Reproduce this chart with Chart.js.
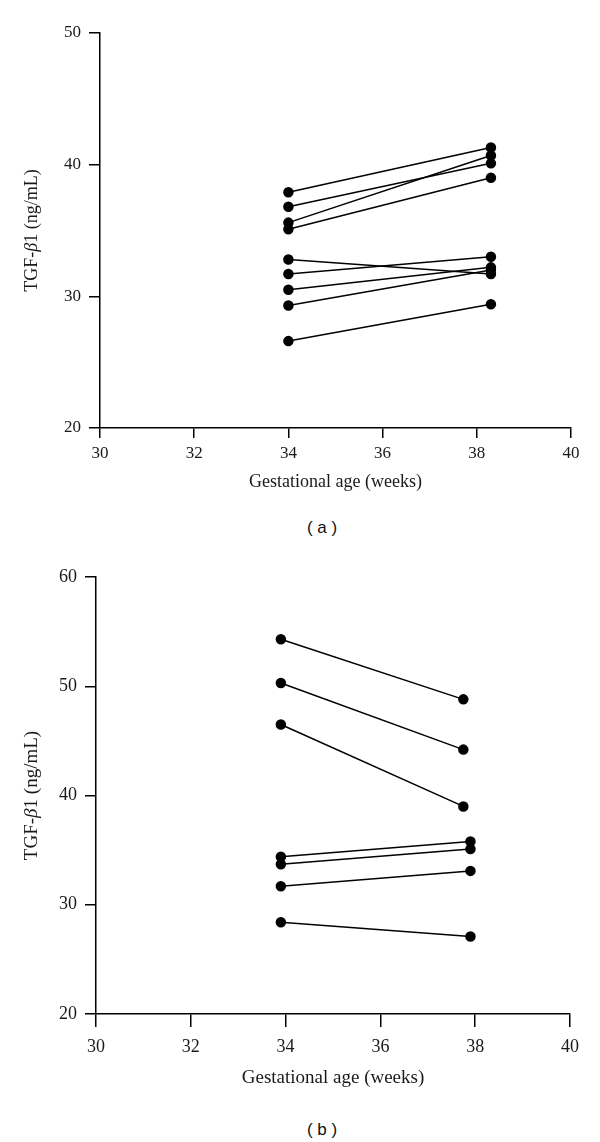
<!DOCTYPE html>
<html>
<head>
<meta charset="utf-8">
<script src="https://cdn.jsdelivr.net/npm/chart.js@4"></script>
<style>
  body { margin: 0; background: #fff; width: 600px; height: 1142px; position: relative; overflow: hidden; }
  canvas { position: absolute; left: 0; }
  .cap { position: absolute; left: 222px; width: 200px; text-align: center; font: 17px "Liberation Sans", Arial, sans-serif; color: #111; }
</style>
</head>
<body>
<canvas id="chartA" width="600" height="500" style="top:0"></canvas>
<div class="cap" style="top:518px">( a )</div>
<canvas id="chartB" width="600" height="560" style="top:540px"></canvas>
<div class="cap" style="top:1120px">( b )</div>
<script>
// x axis is the same on both panels
const weekTicks = [30, 32, 34, 36, 38, 40];

// panel (a): first and second measurement, one line per subject
const weeksA = [34.0, 38.3];
const firstA = [37.9, 36.8, 35.6, 35.1, 32.8, 31.7, 30.5, 29.3, 26.6];
const secondA = [41.3, 40.1, 40.7, 39.0, 31.7, 33.0, 32.2, 32.0, 29.4];
const yTicksA = [20, 30, 40, 50];

// panel (b)
const firstWeekB = 33.9;
const secondWeekB = [37.75, 37.75, 37.75, 37.9, 37.9, 37.9, 37.9];
const firstB = [54.3, 50.3, 46.5, 34.4, 33.7, 31.7, 28.4];
const secondB = [48.8, 44.2, 39.0, 35.8, 35.1, 33.1, 27.1];
const yTicksB = [20, 30, 40, 50, 60];

const serif = '"Liberation Serif", "Times New Roman", serif';
const ink = '#1a1a1a';

// rotated y title with an italic beta
const yTitle = {
    id: 'yTitle',
    afterDraw(chart, args, o) {
        const { ctx, chartArea } = chart;
        const parts = [['TGF-', ''], ['\u03B2', 'italic '], ['1 (ng/mL)', '']];
        ctx.save();
        ctx.translate(o.x, (chartArea.top + chartArea.bottom) / 2);
        ctx.rotate(-Math.PI / 2);
        ctx.fillStyle = ink;
        ctx.textBaseline = 'middle';
        let total = 0;
        parts.forEach(p => {
            ctx.font = p[1] + o.size + 'px ' + serif;
            total += ctx.measureText(p[0]).width;
        });
        let x = -total / 2;
        parts.forEach(p => {
            ctx.font = p[1] + o.size + 'px ' + serif;
            ctx.fillText(p[0], x, 0);
            x += ctx.measureText(p[0]).width;
        });
        ctx.restore();
    }
};

function pairs(w1, w2, v1, v2) {
    return v1.map((v, i) => ({
        data: [
            { x: Array.isArray(w1) ? w1[i] : w1, y: v },
            { x: Array.isArray(w2) ? w2[i] : w2, y: v2[i] }
        ],
        showLine: true,
        borderColor: '#000',
        backgroundColor: '#000',
        borderWidth: 1.5,
        pointRadius: 4.5,
        pointHoverRadius: 4.5
    }));
}

function makeChart(id, datasets, yTicks, g) {
    return new Chart(document.getElementById(id), {
        type: 'scatter',
        data: { datasets: datasets },
        options: {
            responsive: false,
            animation: false,
            events: [],
            layout: { padding: { top: g.top, right: g.right, bottom: 0, left: 0 } },
            plugins: {
                legend: { display: false },
                tooltip: { enabled: false },
                yTitle: { x: 32, size: g.ySize }
            },
            scales: {
                x: {
                    type: 'linear',
                    min: weekTicks[0],
                    max: weekTicks[weekTicks.length - 1],
                    ticks: { stepSize: 2, color: ink, padding: g.tickPad, font: { family: serif, size: g.tickSize } },
                    grid: { drawOnChartArea: false, drawTicks: true, tickLength: g.tickLen, color: '#000', lineWidth: 1.5 },
                    border: { color: '#000', width: 1.5 },
                    title: { display: true, text: 'Gestational age (weeks)', color: ink, font: { family: serif, size: g.titleSize }, padding: { top: 0, bottom: g.titlePad } },
                    afterFit: s => { s.height = g.xHeight; }
                },
                y: {
                    min: yTicks[0],
                    max: yTicks[yTicks.length - 1],
                    ticks: { stepSize: 10, color: ink, padding: 8, font: { family: serif, size: g.tickSize } },
                    grid: { drawOnChartArea: false, drawTicks: true, tickLength: 11, color: '#000', lineWidth: 1.5 },
                    border: { color: '#000', width: 1.5 },
                    afterFit: s => { s.width = g.yWidth; }
                }
            }
        },
        plugins: [yTitle]
    });
}

makeChart('chartA', pairs(weeksA[0], weeksA[1], firstA, secondA), yTicksA, {
    top: 33, right: 29, yWidth: 100, xHeight: 72, tickLen: 10, tickPad: 5,
    tickSize: 17, titleSize: 18, titlePad: 7, ySize: 18
});

makeChart('chartB', pairs(firstWeekB, secondWeekB, firstB, secondB), yTicksB, {
    top: 37, right: 30, yWidth: 96, xHeight: 86, tickLen: 13, tickPad: 9,
    tickSize: 18, titleSize: 19, titlePad: 11, ySize: 19
});
</script>
</body>
</html>
